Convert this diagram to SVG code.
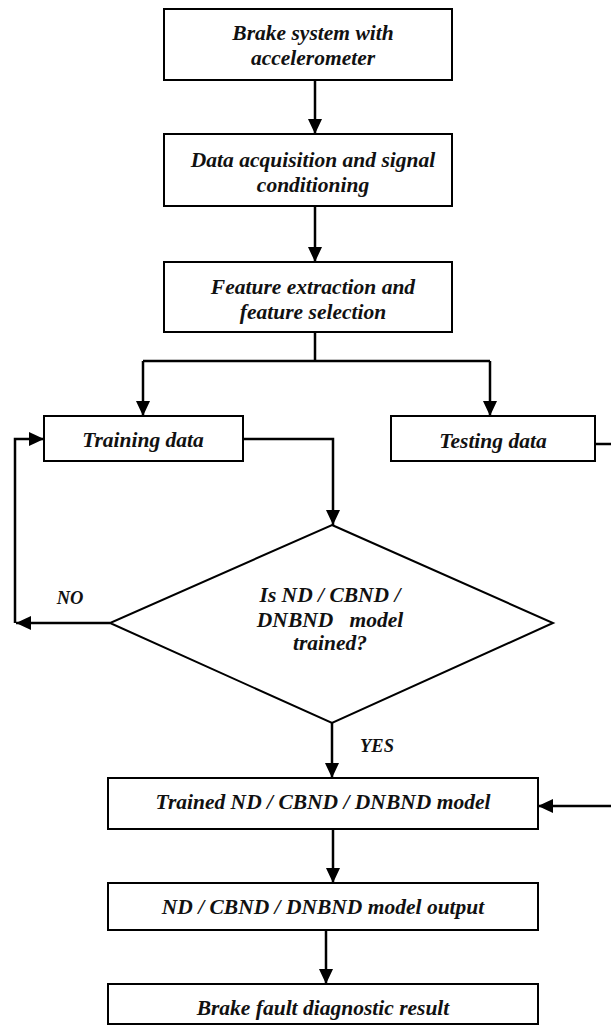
<svg xmlns="http://www.w3.org/2000/svg" width="611" height="1030" viewBox="0 0 611 1030">
<style>
.box{fill:#fff;stroke:#000;stroke-width:2}
.t{font-family:"Liberation Serif","Times New Roman",serif;font-weight:bold;font-style:italic;font-size:21.5px;fill:#111;text-anchor:middle;white-space:pre}
.lbl{font-size:18.5px}
.c{fill:none;stroke:#000;stroke-width:2.5}
</style>
<defs>
<marker id="ah" markerUnits="userSpaceOnUse" markerWidth="16" markerHeight="14" refX="15" refY="7" orient="auto">
<path d="M0,0 L15,7 L0,14 z" fill="#000"/>
</marker>
</defs>
<rect width="611" height="1030" fill="#fff"/>
<g id="connectors">
<path class="c" d="M315,80 V134" marker-end="url(#ah)"/>
<path class="c" d="M315,206 V262" marker-end="url(#ah)"/>
<path class="c" d="M315,332 V361 M143,361 H490"/>
<path class="c" d="M143,361 V416" marker-end="url(#ah)"/>
<path class="c" d="M490,361 V416" marker-end="url(#ah)"/>
<path class="c" d="M243,439 H333 V525" marker-end="url(#ah)"/>
<path class="c" d="M110,623 H16" marker-end="url(#ah)"/>
<path class="c" d="M15,623 V439 H44" marker-end="url(#ah)"/>
<path class="c" d="M332,723 V778" marker-end="url(#ah)"/>
<path class="c" d="M595,444 H615 V806 H538" marker-end="url(#ah)"/>
<path class="c" d="M333,829 V883" marker-end="url(#ah)"/>
<path class="c" d="M326,930 V984" marker-end="url(#ah)"/>
</g>
<g id="brake-system">
<rect class="box" x="164" y="9" width="288" height="71"/>
<text class="t" x="313" y="40">Brake system with</text>
<text class="t" x="313" y="65">accelerometer</text>
</g>
<g id="data-acquisition">
<rect class="box" x="164" y="134" width="288" height="72"/>
<text class="t" x="313" y="167">Data acquisition and signal</text>
<text class="t" x="313" y="192">conditioning</text>
</g>
<g id="feature-extraction">
<rect class="box" x="164" y="262" width="288" height="70"/>
<text class="t" x="313" y="294">Feature extraction and</text>
<text class="t" x="313" y="319">feature selection</text>
</g>
<g id="training-data">
<rect class="box" x="44" y="416" width="199" height="45"/>
<text class="t" x="143" y="447">Training data</text>
</g>
<g id="testing-data">
<rect class="box" x="391" y="416" width="204" height="45"/>
<text class="t" x="493" y="448">Testing data</text>
</g>
<g id="decision">
<polygon class="box" points="332,525 553,623 332,723 110,623"/>
<text class="t" x="330" y="602">Is ND / CBND /</text>
<text class="t" x="330" y="627">DNBND   model</text>
<text class="t" x="330" y="650">trained?</text>
<text class="t lbl" x="70" y="604">NO</text>
<text class="t lbl" x="377" y="752">YES</text>
</g>
<g id="trained-model">
<rect class="box" x="108" y="778" width="430" height="51"/>
<text class="t" x="323" y="809">Trained ND / CBND / DNBND model</text>
</g>
<g id="model-output">
<rect class="box" x="108" y="883" width="430" height="47"/>
<text class="t" x="323" y="914">ND / CBND / DNBND model output</text>
</g>
<g id="fault-result">
<rect class="box" x="108" y="984" width="430" height="40"/>
<text class="t" x="323" y="1015">Brake fault diagnostic result</text>
</g>
</svg>
